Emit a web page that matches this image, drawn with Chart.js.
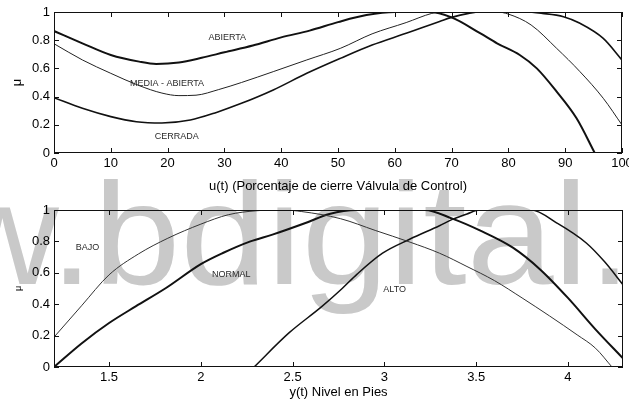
<!DOCTYPE html>
<html>
<head>
<meta charset="utf-8">
<script src="https://cdn.jsdelivr.net/npm/chart.js@4.4.1/dist/chart.umd.min.js"></script>
<style>
  html, body { margin: 0; padding: 0; background: #fff; }
  #wrap { position: relative; width: 629px; height: 400px; overflow: hidden; }
  #mark {
    position: absolute; left: -54px; top: 163px;
    font: 144px "Liberation Sans", Arial, sans-serif; line-height: 144px;
    color: #c9c9c9; white-space: nowrap;
    transform: scaleX(1.084); transform-origin: 0 0;
  }
  .pane { position: absolute; left: 0; width: 629px; }
</style>
</head>
<body>
<div id="wrap">
  <div id="mark">w.bdigital.</div>
  <div class="pane" style="top:0;height:195px"><canvas id="valve" width="629" height="195"></canvas></div>
  <div class="pane" style="top:195px;height:205px"><canvas id="level" width="629" height="205"></canvas></div>
</div>
<script>
// ---- Valve closing membership functions (upper plot) ----
const valveTicks = [0, 10, 20, 30, 40, 50, 60, 70, 80, 90, 100];
const muTicks = [0, 0.2, 0.4, 0.6, 0.8, 1];

const abiertaU  = [0, 5, 10, 15, 18, 22, 26, 30, 35, 40, 45, 50, 55, 60, 66, 70, 75, 78, 82, 85, 88.5, 92, 95.2];
const abiertaMu = [0.865, 0.778, 0.695, 0.648, 0.632, 0.642, 0.675, 0.714, 0.762, 0.82, 0.868, 0.928, 0.978, 1, 1, 0.962, 0.85, 0.778, 0.695, 0.6, 0.435, 0.246, 0];

const mediaU  = [0, 5, 10, 15, 19, 22, 25, 29, 33, 38.6, 44.5, 50.4, 56, 62, 66.5, 68, 78, 80, 84, 88.5, 92.6, 96.7, 100];
const mediaMu = [0.775, 0.66, 0.565, 0.478, 0.425, 0.407, 0.41, 0.45, 0.5, 0.577, 0.66, 0.742, 0.845, 0.925, 0.99, 1, 1, 0.985, 0.908, 0.742, 0.577, 0.388, 0.199];

const cerradaU  = [0, 5, 10, 14.5, 19, 24, 28.6, 33, 38.6, 44.5, 50.4, 56, 62, 68, 70, 73, 75, 83, 86, 89.7, 92.6, 96.7, 100];
const cerradaMu = [0.392, 0.317, 0.258, 0.222, 0.213, 0.234, 0.288, 0.352, 0.447, 0.565, 0.671, 0.766, 0.849, 0.935, 0.962, 0.99, 1, 1, 0.99, 0.967, 0.92, 0.813, 0.66];

const valveNames = ['ABIERTA', 'MEDIA - ABIERTA', 'CERRADA'];
const valveNameU = [30.5, 19.9, 21.6];
const valveNameMu = [0.816, 0.494, 0.116];

// ---- Level membership functions (lower plot) ----
const levelTicks = [1.5, 2, 2.5, 3, 3.5, 4];

const bajoY  = [1.2, 1.35, 1.5, 1.66, 1.82, 2.0, 2.15, 2.3, 2.45, 2.55, 2.76, 2.95, 3.14, 3.3, 3.45, 3.6, 3.75, 3.9, 4.05, 4.15, 4.24];
const bajoMu = [0.19, 0.39, 0.587, 0.72, 0.82, 0.91, 0.97, 0.995, 1, 0.99, 0.945, 0.87, 0.795, 0.725, 0.64, 0.55, 0.44, 0.325, 0.205, 0.12, 0];

const normalY  = [1.2, 1.35, 1.5, 1.645, 1.81, 2.0, 2.12, 2.27, 2.39, 2.57, 2.7, 2.85, 3.22, 3.37, 3.52, 3.7, 3.85, 4.0, 4.15, 4.3];
const normalMu = [0, 0.15, 0.28, 0.386, 0.503, 0.655, 0.726, 0.8, 0.843, 0.917, 0.975, 1, 1, 0.945, 0.87, 0.76, 0.62, 0.44, 0.24, 0.055];

const altoY  = [2.29, 2.48, 2.66, 2.77, 2.85, 2.99, 3.14, 3.3, 3.37, 3.45, 3.52, 3.8, 3.94, 4.1, 4.2, 4.3];
const altoMu = [0, 0.217, 0.386, 0.5, 0.59, 0.725, 0.815, 0.9, 0.94, 0.975, 1, 1, 0.917, 0.79, 0.67, 0.524];

const levelNames = ['BAJO', 'NORMAL', 'ALTO'];
const levelNameY = [1.383, 2.166, 3.056];
const levelNameMu = [0.762, 0.586, 0.495];

Chart.defaults.font.family = '"Liberation Sans", Arial, sans-serif';
Chart.defaults.color = '#000';

const pts = (xs, ys) => xs.map((x, i) => ({ x: x, y: ys[i] }));

function curve(xs, ys, width, color) {
  return {
    data: pts(xs, ys), borderColor: color, borderWidth: width,
    pointRadius: 0, fill: false, cubicInterpolationMode: 'monotone'
  };
}

// Box frame with inward ticks on all four sides, plus in-plot set names
function framePlugin(names, nx, ny) {
  return {
    id: 'frame',
    afterDatasetsDraw(chart) {
      const { ctx, chartArea: a, scales: { x, y } } = chart;
      ctx.save();
      ctx.strokeStyle = '#111';
      ctx.lineWidth = 1;
      ctx.strokeRect(a.left + 0.5, a.top + 0.5, a.right - a.left - 1, a.bottom - a.top - 1);
      const t = 5;
      ctx.beginPath();
      x.ticks.forEach(tk => {
        const p = Math.round(x.getPixelForValue(tk.value)) + 0.5;
        ctx.moveTo(p, a.bottom); ctx.lineTo(p, a.bottom - t);
        ctx.moveTo(p, a.top); ctx.lineTo(p, a.top + t);
      });
      y.ticks.forEach(tk => {
        const p = Math.round(y.getPixelForValue(tk.value)) + 0.5;
        ctx.moveTo(a.left, p); ctx.lineTo(a.left + t, p);
        ctx.moveTo(a.right, p); ctx.lineTo(a.right - t, p);
      });
      ctx.stroke();
      ctx.font = '9px "Liberation Sans", Arial, sans-serif';
      ctx.fillStyle = '#2a2a2a';
      ctx.textAlign = 'center';
      ctx.textBaseline = 'middle';
      names.forEach((s, i) => ctx.fillText(s, x.getPixelForValue(nx[i]), y.getPixelForValue(ny[i])));
      ctx.restore();
    }
  };
}

function makeChart(id, cfg) {
  return new Chart(document.getElementById(id), {
    type: 'line',
    data: { datasets: cfg.datasets },
    options: {
      responsive: false, animation: false,
      layout: { padding: cfg.padding },
      plugins: { legend: { display: false }, tooltip: { enabled: false } },
      scales: {
        x: {
          type: 'linear', min: cfg.xMin, max: cfg.xMax,
          grid: { display: false, drawTicks: false }, border: { display: false },
          afterBuildTicks: s => { s.ticks = cfg.xTicks.map(v => ({ value: v })); },
          afterFit: s => { s.height = cfg.xHeight; s.paddingLeft = 0; s.paddingRight = 0; },
          ticks: { font: { size: 13 }, padding: 3, maxRotation: 0, autoSkip: false, callback: v => String(v) },
          title: { display: true, text: cfg.xTitle, font: { size: 13 }, padding: { top: 0, bottom: cfg.xTitlePad } }
        },
        y: {
          type: 'linear', min: 0, max: 1,
          grid: { display: false, drawTicks: false }, border: { display: false },
          afterBuildTicks: s => { s.ticks = muTicks.map(v => ({ value: v })); },
          afterFit: s => { s.width = 54; s.paddingTop = 0; s.paddingBottom = 0; },
          ticks: { font: { size: 13 }, padding: 4, autoSkip: false, callback: v => String(v) },
          title: { display: true, text: 'μ', font: { size: cfg.muSize }, padding: { top: cfg.muPad, bottom: 0 } }
        }
      }
    },
    plugins: [framePlugin(cfg.names, cfg.nameX, cfg.nameY)]
  });
}

makeChart('valve', {
  datasets: [
    curve(abiertaU, abiertaMu, 2, '#111'),
    curve(mediaU, mediaMu, 1, '#222'),
    curve(cerradaU, cerradaMu, 1.6, '#111')
  ],
  padding: { top: 12, right: 7, left: 0, bottom: 0 },
  xMin: 0, xMax: 100, xTicks: valveTicks, xHeight: 42,
  xTitle: 'u(t) (Porcentaje de cierre Válvula de Control)', xTitlePad: 1,
  muSize: 13, muPad: 10,
  names: valveNames, nameX: valveNameU, nameY: valveNameMu
});

makeChart('level', {
  datasets: [
    curve(bajoY, bajoMu, 1, '#333'),
    curve(normalY, normalMu, 2, '#111'),
    curve(altoY, altoMu, 1.5, '#111')
  ],
  padding: { top: 15, right: 6, left: 0, bottom: 0 },
  xMin: 1.2, xMax: 4.3, xTicks: levelTicks, xHeight: 33,
  xTitle: 'y(t) Nivel en Pies', xTitlePad: 0,
  muSize: 9, muPad: 13,
  names: levelNames, nameX: levelNameY, nameY: levelNameMu
});
</script>
</body>
</html>
